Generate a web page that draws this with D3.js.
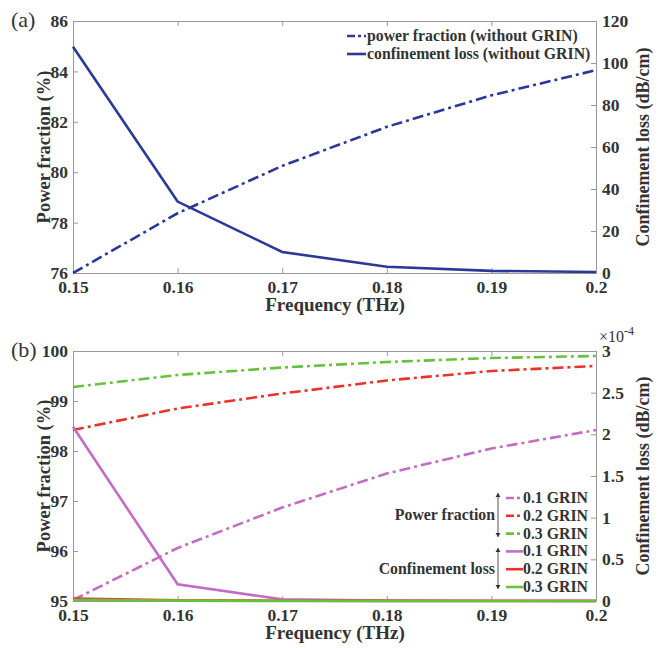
<!DOCTYPE html>
<html>
<head>
<meta charset="utf-8">
<script src="https://cdn.jsdelivr.net/npm/d3@7"></script>
<style>
  body { margin: 0; background: #fff; }
  svg text { font-family: "Liberation Serif", "Times New Roman", serif; fill: #333; }
</style>
</head>
<body>
<svg width="659" height="648"></svg>
<script>
// frequency (THz)
const freq = [0.15, 0.16, 0.17, 0.18, 0.19, 0.2];
const freqTicks = [0.15, 0.16, 0.17, 0.18, 0.19, 0.2];

// panel (a): without GRIN
const pfNoGrin = [76.0, 78.37, 80.25, 81.8, 83.05, 84.05];
const clNoGrin = [107.7, 34.0, 10.0, 3.0, 1.0, 0.5];

// panel (b): power fraction (%) for GRIN 0.1 / 0.2 / 0.3
const pfGrin1 = [95.02, 96.06, 96.87, 97.55, 98.05, 98.42];
const pfGrin2 = [98.42, 98.85, 99.15, 99.41, 99.6, 99.7];
const pfGrin3 = [99.28, 99.52, 99.67, 99.78, 99.86, 99.9];
// confinement loss (x1e-4 dB/cm)
const clGrin1 = [2.09, 0.2, 0.02, 0.006, 0.003, 0.001];
const clGrin2 = [0.03, 0.008, 0.003, 0.001, 0.0005, 0.0002];
const clGrin3 = [0.015, 0.004, 0.001, 0.0005, 0.0002, 0.0001];

const grinLabels = ['0.1 GRIN', '0.2 GRIN', '0.3 GRIN'];
const grinColors = ['#c26cc4', '#e8322b', '#68c13c'];
const blue = '#2b3897';
const dashDot = '11,4,3,4';

const svg = d3.select('svg');

function panel(top, bottom, leftDomain, leftTicks, rightDomain, rightTicks, rightFmt) {
    let x = d3.scaleLinear().domain([0.15, 0.2]).range([73, 596]);
    let yl = d3.scaleLinear().domain(leftDomain).range([bottom, top]);
    let yr = d3.scaleLinear().domain(rightDomain).range([bottom, top]);
    let g = svg.append('g');

    let styleAxis = function(sel) {
        sel.attr('font-family', null);
        sel.selectAll('.domain').attr('stroke', '#999').attr('stroke-width', 1);
        sel.selectAll('.tick line').attr('stroke', '#999');
        sel.selectAll('.tick text').style('font-size', '17.5px').style('font-weight', 'bold').attr('fill', '#333');
    };

    g.append('g').attr('transform', 'translate(0,' + bottom + ')')
        .call(d3.axisBottom(x).tickValues(freqTicks).tickSizeInner(-5).tickSizeOuter(0)
            .tickPadding(8).tickFormat(d => d === 0.2 ? '0.2' : d3.format('.2f')(d)))
        .call(styleAxis);
    g.append('g').attr('transform', 'translate(0,' + top + ')')
        .call(d3.axisTop(x).tickValues(freqTicks).tickSizeInner(-5).tickSizeOuter(0).tickFormat(''))
        .call(styleAxis);
    g.append('g').attr('transform', 'translate(73,0)')
        .call(d3.axisLeft(yl).tickValues(leftTicks).tickSizeInner(-5).tickSizeOuter(0).tickPadding(5)
            .tickFormat(d3.format('d')))
        .call(styleAxis);
    g.append('g').attr('transform', 'translate(596,0)')
        .call(d3.axisRight(yr).tickValues(rightTicks).tickSizeInner(-5).tickSizeOuter(0).tickPadding(6)
            .tickFormat(rightFmt))
        .call(styleAxis);

    g.append('text').attr('x', 335).attr('y', bottom + 38).attr('text-anchor', 'middle')
        .style('font-size', '19px').style('font-weight', 'bold').text('Frequency (THz)');
    g.append('text').attr('transform', 'translate(50,' + ((top + bottom) / 2) + ') rotate(-90)')
        .attr('text-anchor', 'middle').style('font-size', '18.5px').style('font-weight', 'bold')
        .text('Power fraction (%)');
    g.append('text').attr('transform', 'translate(649,' + ((top + bottom) / 2) + ') rotate(-90)')
        .attr('text-anchor', 'middle').style('font-size', '18px').style('font-weight', 'bold')
        .text('Confinement loss (dB/cm)');

    return {x: x, yl: yl, yr: yr, g: g};
}

function drawLine(p, scale, values, color, dash) {
    let line = d3.line().x((d, i) => p.x(freq[i])).y(d => scale(d));
    p.g.append('path').datum(values)
        .attr('d', line)
        .attr('fill', 'none')
        .attr('stroke', color)
        .attr('stroke-width', 2.6)
        .attr('stroke-dasharray', dash);
}

// ---- panel (a)
let a = panel(21, 273, [76, 86], [76, 78, 80, 82, 84, 86], [0, 120], [0, 20, 40, 60, 80, 100, 120], d3.format('d'));
drawLine(a, a.yl, pfNoGrin, blue, dashDot);
drawLine(a, a.yr, clNoGrin, blue, null);

svg.append('text').attr('x', 11).attr('y', 27).style('font-size', '22px').text('(a)');

let legA = [['power fraction (without GRIN)', dashDot], ['confinement loss (without GRIN)', null]];
legA.forEach(function(d, i) {
    let yy = 36 + i * 18;
    svg.append('line').attr('x1', 347).attr('x2', 366).attr('y1', yy).attr('y2', yy)
        .attr('stroke', blue).attr('stroke-width', 2.6).attr('stroke-dasharray', d[1] ? '8,3,3,3' : null);
    svg.append('text').attr('x', 367).attr('y', yy + 5).style('font-size', '15.8px')
        .style('font-weight', 'bold').text(d[0]);
});

// ---- panel (b)
let b = panel(351, 601, [95, 100], [95, 96, 97, 98, 99, 100], [0, 3], [0, 0.5, 1, 1.5, 2, 2.5, 3], d3.format('~g'));
[pfGrin1, pfGrin2, pfGrin3].forEach(function(v, i) { drawLine(b, b.yl, v, grinColors[i], dashDot); });
[clGrin1, clGrin2, clGrin3].forEach(function(v, i) { drawLine(b, b.yr, v, grinColors[i], null); });

svg.append('text').attr('x', 11).attr('y', 357).style('font-size', '22px').text('(b)');

let expo = svg.append('text').attr('x', 599).attr('y', 342).style('font-size', '16px');
expo.append('tspan').text('×10');
expo.append('tspan').attr('dy', -7).style('font-size', '12px').text('-4');

// legend for (b)
let rowsB = [];
['Power fraction', 'Confinement loss'].forEach(function(grp, gi) {
    grinLabels.forEach(function(lab, i) {
        rowsB.push({label: lab, color: grinColors[i], dash: gi === 0 ? '8,3,3,3' : null});
    });
});
rowsB.forEach(function(d, i) {
    let yy = 498 + i * 17.8;
    svg.append('line').attr('x1', 506).attr('x2', 523).attr('y1', yy).attr('y2', yy)
        .attr('stroke', d.color).attr('stroke-width', 2.6).attr('stroke-dasharray', d.dash);
    svg.append('text').attr('x', 523).attr('y', yy + 5).style('font-size', '15.8px')
        .style('font-weight', 'bold').text(d.label);
});
[['Power fraction', 493, 537], ['Confinement loss', 548, 589]].forEach(function(d) {
    svg.append('line').attr('x1', 498).attr('x2', 498).attr('y1', d[1]).attr('y2', d[2])
        .attr('stroke', '#555').attr('stroke-width', 1);
    svg.append('path').attr('d', 'M495.5,' + (d[1] + 4) + 'L498,' + d[1] + 'L500.5,' + (d[1] + 4) + 'Z').attr('fill', '#333');
    svg.append('path').attr('d', 'M495.5,' + (d[2] - 4) + 'L498,' + d[2] + 'L500.5,' + (d[2] - 4) + 'Z').attr('fill', '#333');
    svg.append('text').attr('x', 495).attr('y', (d[1] + d[2]) / 2 + 5).attr('text-anchor', 'end')
        .style('font-size', '15.8px').style('font-weight', 'bold').text(d[0]);
});
</script>
</body>
</html>
